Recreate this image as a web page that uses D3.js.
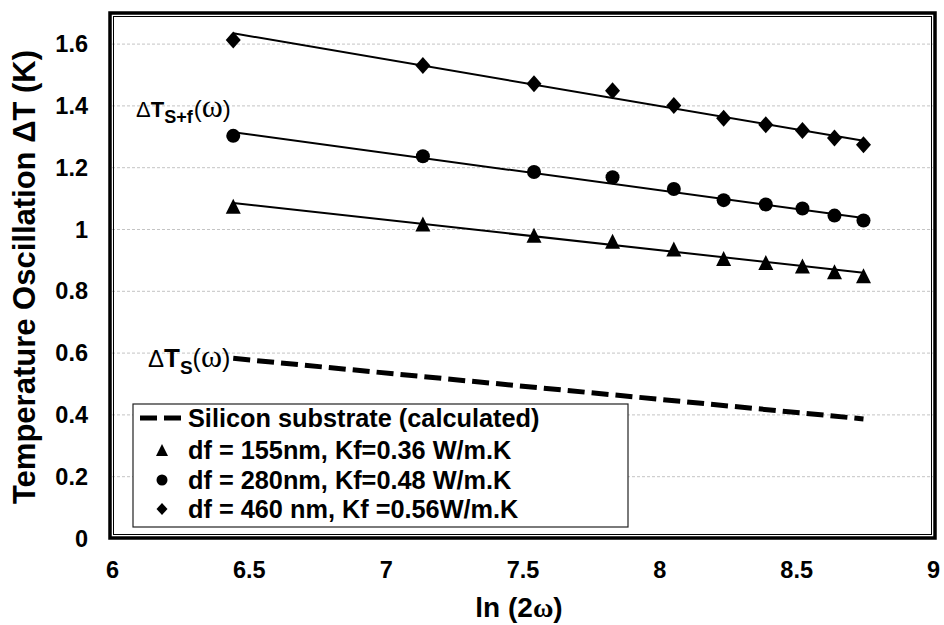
<!DOCTYPE html>
<html><head><meta charset="utf-8">
<script src="https://cdn.jsdelivr.net/npm/d3@7"></script>
<style>body{margin:0;background:#fff}</style>
</head><body><svg id="c" width="944" height="625"></svg>
<script>
// ---- data ----
const lnTwoOmega = [6.443, 7.136, 7.542, 7.829, 8.053, 8.235, 8.389, 8.523, 8.640, 8.746];
const film155 = [1.075, 1.018, 0.981, 0.962, 0.937, 0.906, 0.893, 0.882, 0.863, 0.850];
const film280 = [1.303, 1.237, 1.186, 1.169, 1.131, 1.095, 1.081, 1.068, 1.045, 1.029];
const film460 = [1.613, 1.531, 1.472, 1.449, 1.401, 1.360, 1.339, 1.320, 1.296, 1.274];
const fitX = [6.443, 8.746];
const fit155 = [1.086, 0.860];
const fit280 = [1.315, 1.037];
const fit460 = [1.635, 1.287];
const silicon = [0.583, 0.387];
const xTicks = [6, 6.5, 7, 7.5, 8, 8.5, 9];
const yTicks = [0, 0.2, 0.4, 0.6, 0.8, 1, 1.2, 1.4, 1.6];
const legendLabels = ["Silicon substrate (calculated)", "df = 155nm, Kf=0.36 W/m.K", "df = 280nm, Kf=0.48 W/m.K", "df = 460 nm, Kf =0.56W/m.K"];

const svg = d3.select("#c");
const FONT = "'Liberation Sans', Arial, sans-serif";
const SERIF = "'Liberation Serif', 'Times New Roman', serif";
const x = d3.scaleLinear().domain([6, 9]).range([112, 933]);
const y = d3.scaleLinear().domain([0, 1.7]).range([538.5, 13.2]);

// gridlines
svg.append("g").selectAll("line").data(yTicks.filter(d => d > 0)).join("line")
  .attr("x1", x(6)).attr("x2", x(9)).attr("y1", d => y(d)).attr("y2", d => y(d))
  .attr("stroke", "#c4c4c4").attr("stroke-width", 1).attr("stroke-dasharray", "3,2");

// frame (double border)
svg.append("rect").attr("x", 110).attr("y", 13).attr("width", 825).attr("height", 525)
  .attr("fill", "none").attr("stroke", "#000").attr("stroke-width", 3.5);
svg.append("rect").attr("x", 113.5).attr("y", 16.5).attr("width", 818).attr("height", 518)
  .attr("fill", "none").attr("stroke", "#000").attr("stroke-width", 1);

// axes
const fmt = d => String(+d.toFixed(1));
const ax = svg.append("g").attr("transform", `translate(0,${y(0)})`)
  .call(d3.axisBottom(x).tickValues(xTicks).tickSize(0).tickPadding(23).tickFormat(fmt));
const ay = svg.append("g").attr("transform", `translate(${x(6)},0)`)
  .call(d3.axisLeft(y).tickValues(yTicks).tickSize(0).tickPadding(24).tickFormat(fmt));
[ax, ay].forEach(g => {
  g.select(".domain").remove();
  g.selectAll("text").attr("font-family", FONT).attr("font-weight", "bold")
    .attr("font-size", 23.5).attr("fill", "#000");
});

// fit lines
const line = d3.line().x(d => x(d[0])).y(d => y(d[1]));
[fit155, fit280, fit460].forEach(f => {
  svg.append("path").attr("d", line(fitX.map((v, i) => [v, f[i]])))
    .attr("fill", "none").attr("stroke", "#000").attr("stroke-width", 2);
});
// silicon dashed
svg.append("path").attr("d", line(fitX.map((v, i) => [v, silicon[i]])))
  .attr("fill", "none").attr("stroke", "#000").attr("stroke-width", 5)
  .attr("stroke-dasharray", "17,7");

// marker shapes
const triShape = (w, h) => ({draw(c) { c.moveTo(0, -h/2); c.lineTo(w/2, h/2); c.lineTo(-w/2, h/2); c.closePath(); }});
const diaShape = (w, h) => ({draw(c) { c.moveTo(0, -h/2); c.lineTo(w/2, 0); c.lineTo(0, h/2); c.lineTo(-w/2, 0); c.closePath(); }});
const cirShape = r => ({draw(c) { c.moveTo(r, 0); c.arc(0, 0, r, 0, 2*Math.PI); }});

const series = [
  {vals: film155, shape: triShape(15, 15), lshape: triShape(12, 12)},
  {vals: film280, shape: cirShape(7), lshape: cirShape(5.5)},
  {vals: film460, shape: diaShape(15, 17), lshape: diaShape(11, 12)}
];
series.forEach(s => {
  svg.append("g").selectAll("path").data(s.vals).join("path")
    .attr("transform", (d, i) => `translate(${x(lnTwoOmega[i])},${y(d)})`)
    .attr("d", d3.symbol().type(s.shape)()).attr("fill", "#000");
});

// legend
const lg = svg.append("g");
lg.append("rect").attr("x", 133).attr("y", 404).attr("width", 495).attr("height", 123)
  .attr("fill", "#fff").attr("stroke", "#222").attr("stroke-width", 1.2);
const rowY = [418, 450, 480, 509];
lg.append("line").attr("x1", 140).attr("x2", 181).attr("y1", rowY[0]).attr("y2", rowY[0])
  .attr("stroke", "#000").attr("stroke-width", 5).attr("stroke-dasharray", "17,7");
series.forEach((s, i) => {
  lg.append("path").attr("transform", `translate(162,${rowY[i+1]})`)
    .attr("d", d3.symbol().type(s.lshape)()).attr("fill", "#000");
});
lg.selectAll("text").data(legendLabels).join("text")
  .attr("x", 188).attr("y", (d, i) => rowY[i] + 9)
  .attr("font-family", FONT).attr("font-weight", "bold").attr("font-size", 25.3)
  .text(d => d);

// axis titles
svg.append("text").attr("x", 519).attr("y", 617).attr("text-anchor", "middle")
  .attr("font-family", FONT).attr("font-weight", "bold").attr("font-size", 28)
  .call(t => {
    t.append("tspan").text("ln (2");
    t.append("tspan").attr("font-family", SERIF).text("ω");
    t.append("tspan").text(")");
  });
svg.append("text").attr("transform", "translate(35,277) rotate(-90)").attr("text-anchor", "middle")
  .attr("font-family", FONT).attr("font-weight", "bold").attr("font-size", 31)
  .text("Temperature Oscillation ΔT (K)");

// annotations
svg.append("text").attr("x", 136).attr("y", 117).attr("font-family", FONT)
  .call(t => {
    t.append("tspan").attr("font-size", 22).text("Δ");
    t.append("tspan").attr("font-size", 22).attr("font-weight", "bold").text("T");
    t.append("tspan").attr("font-weight", "bold").attr("font-size", 18).attr("dy", 6).text("S+f");
    t.append("tspan").attr("font-size", 24).attr("dy", -6).attr("dx", 1).text("(");
    t.append("tspan").attr("font-family", SERIF).attr("font-size", 32).text("ω");
    t.append("tspan").attr("font-size", 24).text(")");
  });
svg.append("text").attr("x", 148).attr("y", 366.5).attr("font-family", FONT)
  .call(t => {
    t.append("tspan").attr("font-size", 24).text("Δ");
    t.append("tspan").attr("font-size", 26).attr("font-weight", "bold").text("T");
    t.append("tspan").attr("font-weight", "bold").attr("font-size", 19).attr("dy", 7).text("S");
    t.append("tspan").attr("font-size", 25).attr("dy", -7).text("(");
    t.append("tspan").attr("font-family", SERIF).attr("font-size", 32).text("ω");
    t.append("tspan").attr("font-size", 25).text(")");
  });
</script></body></html>
